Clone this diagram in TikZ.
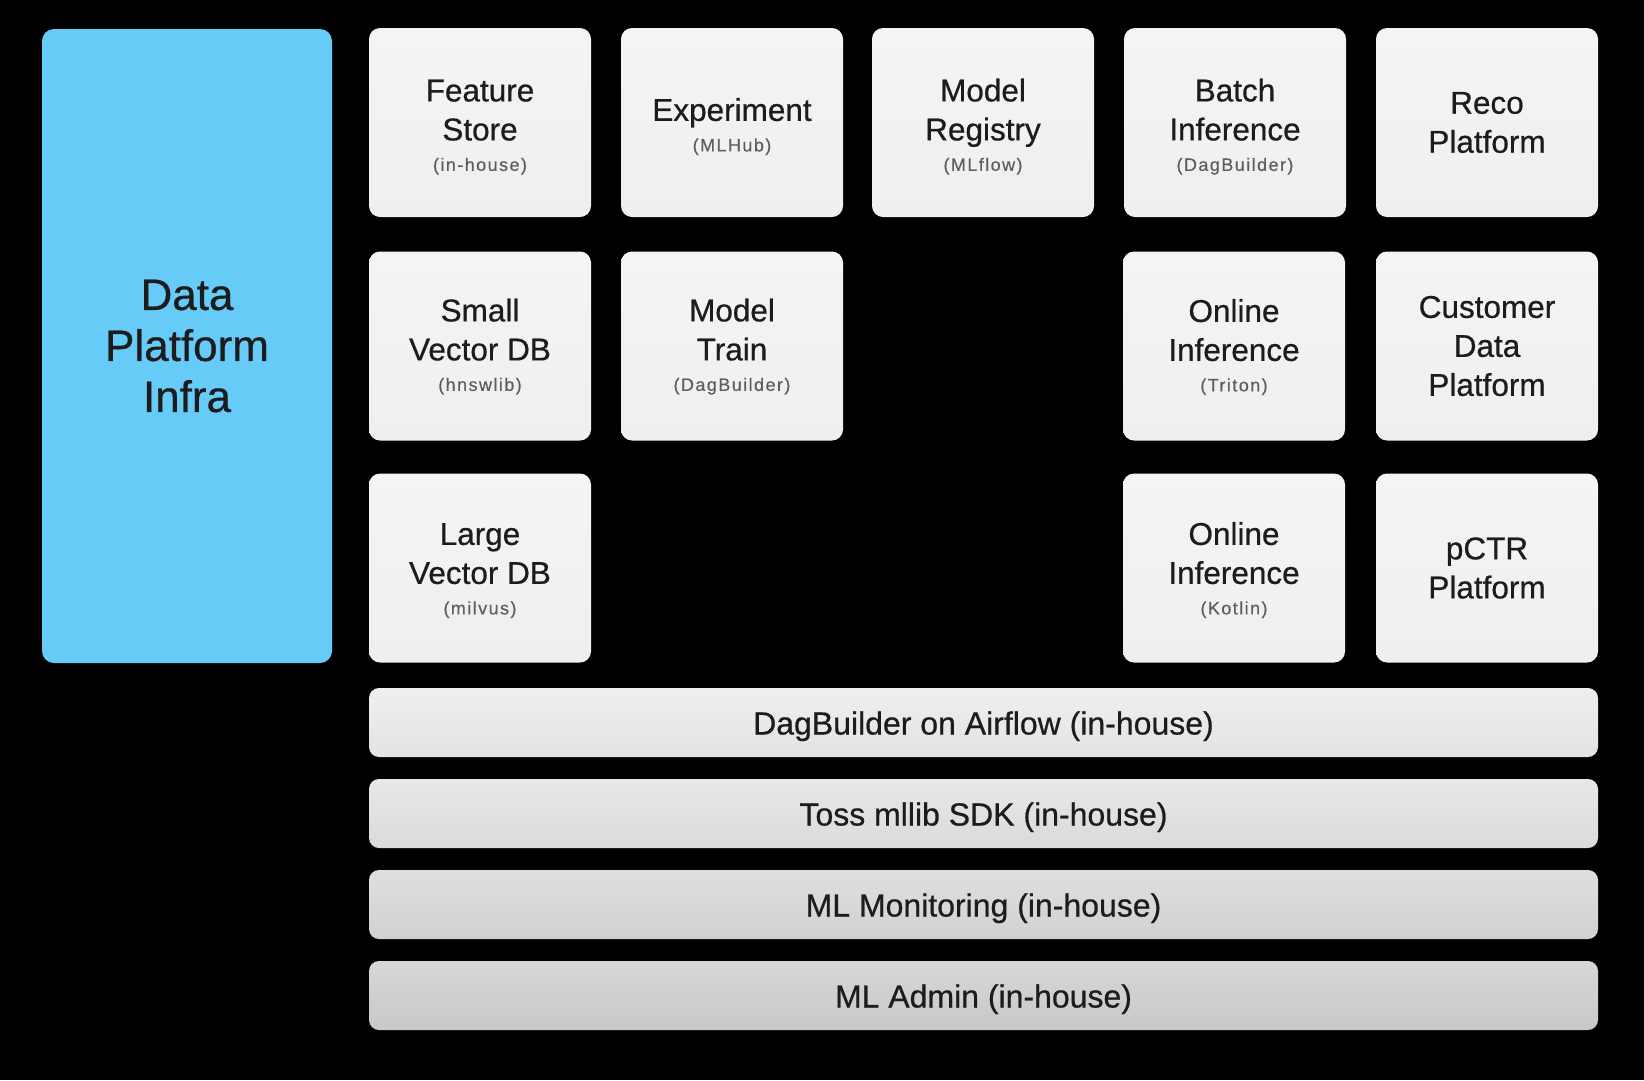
\documentclass[tikz,border=0pt]{standalone}
\usepackage{fontspec}
\setmainfont{Liberation Sans}[FakeBold=0.6]
\newfontfamily\smallfnt[LetterSpace=8,FakeBold=0.4]{Liberation Sans}
\definecolor{bluebox}{HTML}{66CCF7}
\definecolor{tiletop}{HTML}{F4F4F5}
\definecolor{tilebot}{HTML}{EFEFF0}
\definecolor{txt}{HTML}{1C1C1E}
\definecolor{subtxt}{HTML}{5E5E62}
\definecolor{baraT}{HTML}{EFEFEF}\definecolor{baraB}{HTML}{E3E3E3}
\definecolor{barbT}{HTML}{E8E8E8}\definecolor{barbB}{HTML}{DADADA}
\definecolor{barcT}{HTML}{DFDFDF}\definecolor{barcB}{HTML}{D1D1D1}
\definecolor{bardT}{HTML}{D7D7D7}\definecolor{bardB}{HTML}{C8C8C8}
\newcommand{\stxt}[3][31pt]{\rule{0pt}{#1}#2\\[-8.5pt]{\smallfnt\fontsize{18}{20}\selectfont\color{subtxt}#3}}
\tikzset{
  tile/.style={rounded corners=11pt, top color=tiletop, bottom color=tilebot, draw=none,
    minimum width=222pt, minimum height=189pt, inner sep=0pt, align=center, text=txt,
    font=\fontsize{31.5}{39}\selectfont},
  bar/.style={rounded corners=10pt, draw=none, minimum width=1229pt, minimum height=69pt,
    inner sep=0pt, text=txt, text height=30pt, text depth=6pt,
    font=\fontsize{32}{39}\selectfont},
  infra/.style={rounded corners=12pt, fill=bluebox, draw=none, minimum width=290pt,
    minimum height=634pt, inner sep=0pt, align=center, text=txt,
    font=\fontsize{44}{51}\selectfont}
}
\begin{document}
\begin{tikzpicture}[x=1pt,y=-1pt]
\fill[black] (0,0) rectangle (1644,1080);
\useasboundingbox (0,0) rectangle (1644,1080);
\node[infra] (dpi) at (187,346) {Data\\Platform\\Infra};
% row 1
\node[tile] (fs)  at (480,122.5)  {\stxt{Feature\\Store}{(in-house)}};
\node[tile] (exp) at (732,122.5)  {\stxt{Experiment}{(MLHub)}};
\node[tile] (mr)  at (983,122.5)  {\stxt{Model\\Registry}{(MLflow)}};
\node[tile] (bi)  at (1235,122.5) {\stxt{Batch\\Inference}{(DagBuilder)}};
\node[tile] (rp)  at (1487,122.5) {Reco\\Platform};
% row 2
\node[tile] (svd) at (480,346)  {\stxt[24pt]{Small\\Vector DB}{(hnswlib)}};
\node[tile] (mt)  at (732,346)  {\stxt[24pt]{Model\\Train}{(DagBuilder)}};
\node[tile] (oit) at (1234,346) {\stxt[25pt]{Online\\Inference}{(Triton)}};
\node[tile] (cdp) at (1487,346) {Customer\\Data\\Platform};
% row 3
\node[tile] (lvd) at (480,568)  {\stxt[27pt]{Large\\Vector DB}{(milvus)}};
\node[tile] (oik) at (1234,568) {\stxt[27pt]{Online\\Inference}{(Kotlin)}};
\node[tile] (pctr) at (1487,568) {pCTR\\Platform};
% bars
\node[bar, top color=baraT, bottom color=baraB] (dag) at (983.5,722.5) {DagBuilder on Airflow (in-house)};
\node[bar, top color=barbT, bottom color=barbB] (sdk) at (983.5,813.5) {Toss mllib SDK (in-house)};
\node[bar, top color=barcT, bottom color=barcB] (mon) at (983.5,904.5) {ML Monitoring (in-house)};
\node[bar, top color=bardT, bottom color=bardB] (adm) at (983.5,995.5) {ML Admin (in-house)};
\end{tikzpicture}
\end{document}
